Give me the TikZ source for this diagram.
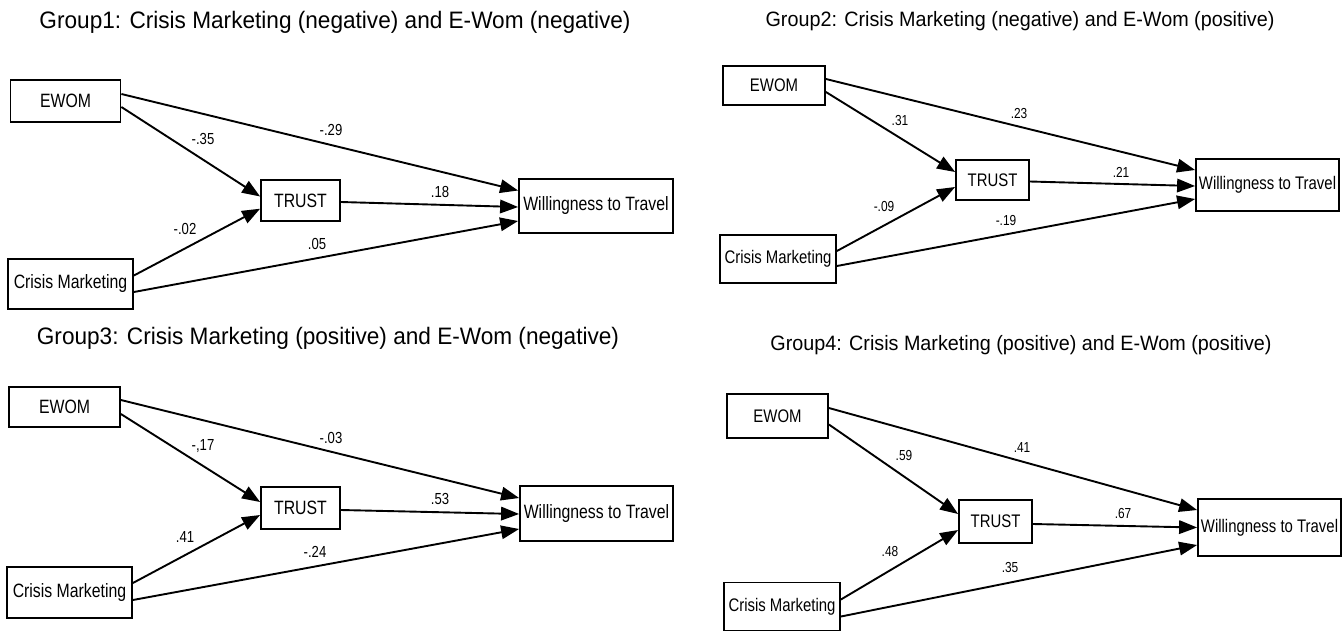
\documentclass[tikz,border=0pt]{standalone}
\usepackage{fontspec}
\setmainfont{Liberation Sans}
\newfontfamily\nodefont[FakeStretch=0.82]{Liberation Sans}
\newfontfamily\titlefont[FakeStretch=0.95]{Liberation Sans}
\usetikzlibrary{arrows.meta}
\begin{document}
\begin{tikzpicture}[x=1pt,y=-1pt,
  box/.style={draw, line width=1.8pt, inner sep=0pt},
  lbox/.style={box, font=\nodefont\fontsize{19.3}{21}\selectfont},
  rbox/.style={box, font=\nodefont\fontsize{18.2}{20}\selectfont},
  llab/.style={inner sep=0pt, font=\nodefont\fontsize{16}{17}\selectfont},
  rlab/.style={inner sep=0pt, font=\nodefont\fontsize{14.5}{16}\selectfont},
  lttl/.style={inner sep=0pt, font=\titlefont\fontsize{23.8}{25}\selectfont},
  rttl/.style={inner sep=0pt, font=\titlefont\fontsize{20.8}{23}\selectfont},
  arr/.style={line width=1.9pt, -{Triangle[length=18pt,width=13.5pt]}}]
\useasboundingbox (0,0) rectangle (1343,632);

% ---------------- Group 1 ----------------
\node[lttl] (g1) at (335,22) {Group1: Crisis Marketing (negative) and E-Wom (negative)};
\node[lbox, minimum width=110pt, minimum height=42pt] (e1) at (65.5,101) {EWOM};
\node[lbox, minimum width=79pt, minimum height=41pt] (t1) at (300.5,200.5) {TRUST};
\node[lbox, minimum width=154pt, minimum height=54pt] (w1) at (596,206) {Willingness to Travel};
\node[lbox, minimum width=125pt, minimum height=50pt] (c1) at (70.5,284) {Crisis Marketing};
\draw[arr] ([yshift=7pt]e1.east) -- ([yshift=15.5pt]w1.west);
\draw[arr] ([yshift=-6pt]e1.east) -- ([yshift=4pt]t1.west);
\draw[arr] ([yshift=-1.5pt]t1.east) -- ([yshift=-1pt]w1.west);
\draw[arr] ([yshift=8.5pt]c1.east) -- ([yshift=-8.2pt]t1.west);
\draw[arr] ([yshift=-8pt]c1.east) -- ([yshift=-15pt]w1.west);
\node[llab] (l1a) at (203,139) {-.35};
\node[llab] (l1b) at (331,130) {-.29};
\node[llab] (l1c) at (440,192) {.18};
\node[llab] (l1d) at (185,229) {-.02};
\node[llab] (l1e) at (317,244) {.05};

% ---------------- Group 3 ----------------
\node[lttl] (g3) at (328,338) {Group3: Crisis Marketing (positive) and E-Wom (negative)};
\node[lbox, minimum width=111pt, minimum height=40pt] (e3) at (64.5,407) {EWOM};
\node[lbox, minimum width=79pt, minimum height=42pt] (t3) at (300.5,508) {TRUST};
\node[lbox, minimum width=153pt, minimum height=55pt] (w3) at (596.5,513.5) {Willingness to Travel};
\node[lbox, minimum width=125pt, minimum height=51pt] (c3) at (69.5,592.5) {Crisis Marketing};
\draw[arr] ([yshift=7pt]e3.east) -- ([yshift=15.5pt]w3.west);
\draw[arr] ([yshift=-7pt]e3.east) -- ([yshift=6pt]t3.west);
\draw[arr] ([yshift=-2pt]t3.east) -- ([yshift=-0.5pt]w3.west);
\draw[arr] ([yshift=9.5pt]c3.east) -- ([yshift=-7pt]t3.west);
\draw[arr] ([yshift=-7.5pt]c3.east) -- ([yshift=-15.5pt]w3.west);
\node[llab] (l3a) at (203,446) {-,17};
\node[llab] (l3b) at (331,438) {-.03};
\node[llab] (l3c) at (440,499) {.53};
\node[llab] (l3d) at (185,537) {.41};
\node[llab] (l3e) at (315,552) {-.24};

% ---------------- Group 2 ----------------
\node[rttl] (g2) at (1020,21) {Group2: Crisis Marketing (negative) and E-Wom (positive)};
\node[rbox, minimum width=102pt, minimum height=39pt] (e2) at (774,85.5) {EWOM};
\node[rbox, minimum width=73pt, minimum height=40pt] (t2) at (992.5,180) {TRUST};
\node[rbox, minimum width=143pt, minimum height=52pt] (w2) at (1267.5,185) {Willingness to Travel};
\node[rbox, minimum width=116pt, minimum height=48pt] (c2) at (778,259) {Crisis Marketing};
\draw[arr] ([yshift=6.5pt]e2.east) -- ([yshift=15pt]w2.west);
\draw[arr] ([yshift=-6.5pt]e2.east) -- ([yshift=8pt]t2.west);
\draw[arr] ([yshift=-1.5pt]t2.east) -- ([yshift=-1pt]w2.west);
\draw[arr] ([yshift=8pt]c2.east) -- ([yshift=-7pt]t2.west);
\draw[arr] ([yshift=-7pt]c2.east) -- ([yshift=-14pt]w2.west);
\node[rlab] (l2a) at (900,121) {.31};
\node[rlab] (l2b) at (1019,114) {.23};
\node[rlab] (l2c) at (1121,172) {.21};
\node[rlab] (l2d) at (884,207) {-.09};
\node[rlab] (l2e) at (1006,221) {-.19};

% ---------------- Group 4 ----------------
\node[rttl] (g4) at (1021,345) {Group4: Crisis Marketing (positive) and E-Wom (positive)};
\node[rbox, minimum width=101pt, minimum height=44pt] (e4) at (777.5,416) {EWOM};
\node[rbox, minimum width=73pt, minimum height=43pt] (t4) at (995.5,521.5) {TRUST};
\node[rbox, minimum width=143pt, minimum height=57pt] (w4) at (1269.5,527.5) {Willingness to Travel};
\node[rbox, minimum width=116pt, minimum height=48pt] (c4) at (782,606.5) {Crisis Marketing};
\draw[arr] ([yshift=8pt]e4.east) -- ([yshift=17.5pt]w4.west);
\draw[arr] ([yshift=-8.5pt]e4.east) -- ([yshift=7.5pt]t4.west);
\draw[arr] ([yshift=-2.5pt]t4.east) -- ([yshift=0pt]w4.west);
\draw[arr] ([yshift=7pt]c4.east) -- ([yshift=-8.5pt]t4.west);
\draw[arr] ([yshift=-10pt]c4.east) -- ([yshift=-17.5pt]w4.west);
\node[rlab] (l4a) at (904,456) {.59};
\node[rlab] (l4b) at (1022,448) {.41};
\node[rlab] (l4c) at (1123,513) {.67};
\node[rlab] (l4d) at (890,551) {.48};
\node[rlab] (l4e) at (1010,567) {.35};
\end{tikzpicture}
\end{document}
